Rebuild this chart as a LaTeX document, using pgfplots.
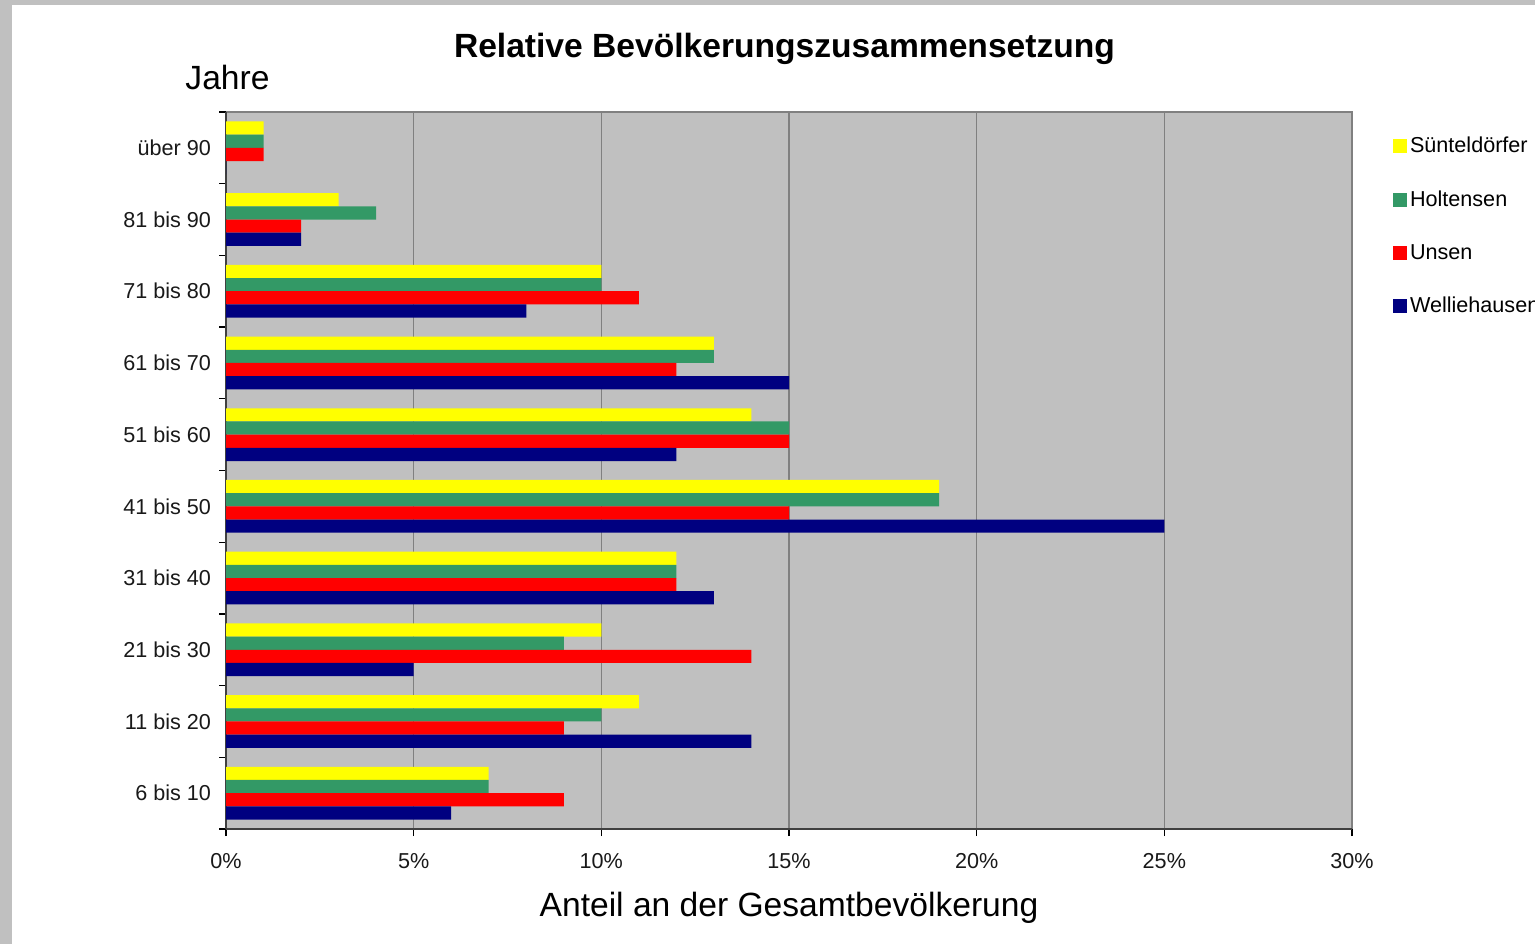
\documentclass[border=0pt]{standalone}
\usepackage{fontspec}
\setmainfont{Liberation Sans}
\usepackage{pgfplots}
\pgfplotsset{compat=1.18}
\definecolor{sgreen}{HTML}{339966}
\definecolor{navyb}{HTML}{000080}
\definecolor{bggray}{HTML}{C0C0C0}
\definecolor{gridgray}{HTML}{808080}
\definecolor{syellow}{HTML}{FFFF00}
\definecolor{sred}{HTML}{FF0000}
\begin{document}
\begin{tikzpicture}
\path[use as bounding box] (0pt,0pt) rectangle (767.5pt,472pt);
\fill[white] (0pt,0pt) rectangle (767.5pt,472pt);
\fill[bggray] (0pt,0pt) rectangle (6pt,472pt);
\fill[bggray] (0pt,469.5pt) rectangle (767.5pt,472pt);
\begin{axis}[
  at={(113pt,57.5pt)}, anchor=south west,
  scale only axis, width=563pt, height=358.5pt,
  xmin=0, xmax=30, ymin=-0.5, ymax=9.5,
  xbar, bar width=0.184,
  axis background/.style={fill=bggray, draw=gridgray, line width=1pt},
  axis x line*=bottom, axis y line*=left,
  axis line style={draw=black!75, line width=1pt},
  xtick={0,5,10,15,20,25,30},
  xticklabels={0\%,5\%,10\%,15\%,20\%,25\%,30\%},
  ytick={0,1,2,3,4,5,6,7,8,9},
  yticklabels={6 bis 10,11 bis 20,21 bis 30,31 bis 40,41 bis 50,51 bis 60,61 bis 70,71 bis 80,81 bis 90,über 90},
  minor ytick={-0.5,0.5,1.5,2.5,3.5,4.5,5.5,6.5,7.5,8.5,9.5},
  tick align=outside,
  major tick length=3.5pt, minor tick length=3.5pt,
  major x tick style={black, line width=0.6pt},
  major y tick style={draw=none},
  minor y tick style={black, line width=0.6pt},
  xmajorgrids=true,
  major x grid style={gridgray, line width=0.6pt},
  ticklabel style={font=\fontsize{10.8}{12}\selectfont, text=black!90},
  yticklabel style={xshift=-0.5pt},
  xticklabel style={yshift=-5pt},
  xlabel={Anteil an der Gesamtbevölkerung},
  xlabel style={at={(axis description cs:0.5,0)}, anchor=base, yshift=-43.5pt, font=\fontsize{16.8}{20}\selectfont},
  ylabel={Jahre},
  ylabel style={at={(axis description cs:0,1)}, rotate=-90, anchor=base, yshift=11pt, xshift=0.75pt, font=\fontsize{16.8}{20}\selectfont},
  title={Relative Bevölkerungszusammensetzung},
  title style={at={(axis description cs:0.5,1)}, anchor=base, yshift=21pt, xshift=-2.25pt, font=\bfseries\fontsize{16.8}{20}\selectfont},
  legend image code/.code={\path[#1, draw=none] (0pt,-3.5pt) rectangle (7pt,3.5pt);},
  legend cell align=left,
  legend style={at={(rel axis cs:1,1)}, anchor=north west, xshift=20.5pt, yshift=-11.5pt,
    draw=none, fill=none, inner sep=0pt, outer sep=0pt,
    font=\fontsize{10.8}{12}\selectfont, row sep=15.5pt, column sep=0.5pt,
    nodes={inner sep=1pt}},
]
\addplot[fill=syellow, draw=none, bar shift=0.276] coordinates {
 (7,0) (11,1) (10,2) (12,3) (19,4) (14,5) (13,6) (10,7) (3,8) (1,9)};
\addplot[fill=sgreen, draw=none, bar shift=0.092] coordinates {
 (7,0) (10,1) (9,2) (12,3) (19,4) (15,5) (13,6) (10,7) (4,8) (1,9)};
\addplot[fill=sred, draw=none, bar shift=-0.092] coordinates {
 (9,0) (9,1) (14,2) (12,3) (15,4) (15,5) (12,6) (11,7) (2,8) (1,9)};
\addplot[fill=navyb, draw=none, bar shift=-0.276] coordinates {
 (6,0) (14,1) (5,2) (13,3) (25,4) (12,5) (15,6) (8,7) (2,8) (0,9)};
\legend{Sünteldörfer,Holtensen,Unsen,Welliehausen}
\end{axis}
\end{tikzpicture}
\end{document}
